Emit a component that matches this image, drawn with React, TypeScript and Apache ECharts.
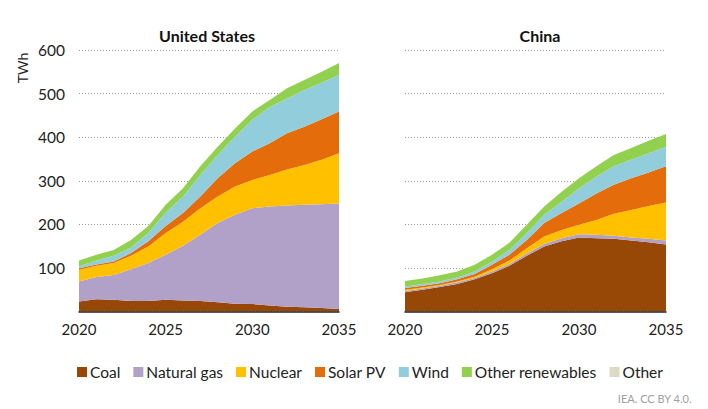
import React, { useEffect, useRef } from "react";
import * as echarts from "echarts";

const years = ["2020","2021","2022","2023","2024","2025","2026","2027","2028","2029","2030","2031","2032","2033","2034","2035"];
const seriesNames = ["Coal", "Natural gas", "Nuclear", "Solar PV", "Wind", "Other renewables", "Other"];
const colors = ["#974706", "#B1A0C7", "#FFC000", "#E46C0A", "#92CDDC", "#92D050", "#DDD9C4"];
const yTicks = [0, 100, 200, 300, 400, 500, 600];

const usCoal = [23, 28, 27, 24, 24, 27, 25, 24, 21, 18, 17, 14, 11, 10, 8, 6];
const usGas = [46, 51, 57, 73, 87, 103, 126, 152, 182, 204, 220, 227, 232, 235, 238, 242];
const usNuclear = [27, 26, 27, 31, 38, 50, 55, 61, 61, 65, 65, 72, 83, 91, 102, 115];
const usSolar = [3, 3, 4, 6, 12, 16, 20, 27, 42, 53, 65, 73, 83, 88, 93, 96];
const usWind = [4, 9, 13, 13, 19, 31, 38, 49, 53, 61, 73, 83, 80, 84, 84, 84];
const usOtherRen = [14, 13, 13, 17, 16, 18, 19, 20, 19, 19, 19, 16, 23, 23, 25, 27];
const usOther = [0, 0, 0, 0, 0, 0, 0, 0, 0, 0, 0, 0, 0, 0, 0, 0];

const cnCoal = [44, 50, 56, 63, 74, 88, 105, 128, 149, 161, 170, 168, 167, 163, 159, 154];
const cnGas = [3, 3, 3, 4, 3, 4, 4, 5, 6, 7, 7, 8, 7, 7, 8, 9];
const cnNuclear = [3, 2, 2, 2, 3, 5, 8, 12, 17, 19, 22, 34, 50, 63, 75, 87];
const cnSolar = [4, 4, 4, 5, 6, 10, 13, 19, 31, 39, 49, 61, 67, 73, 77, 83];
const cnWind = [3, 4, 4, 4, 6, 8, 11, 16, 19, 26, 35, 39, 42, 42, 44, 45];
const cnOtherRen = [13, 13, 14, 14, 15, 15, 17, 19, 19, 23, 23, 23, 26, 27, 29, 29];
const cnOther = [0, 0, 0, 0, 0, 0, 0, 0, 0, 0, 0, 0, 0, 0, 0, 0];

const usData = [usCoal, usGas, usNuclear, usSolar, usWind, usOtherRen, usOther];
const cnData = [cnCoal, cnGas, cnNuclear, cnSolar, cnWind, cnOtherRen, cnOther];

const FONT = "Lato, 'Open Sans', sans-serif";

export default function App() {
  const ref = useRef<HTMLDivElement>(null);
  useEffect(() => {
    if (!ref.current) return;
    const chart = echarts.init(ref.current, undefined, { renderer: "svg" });
    const makeSeries = (data: number[][], gi: number) =>
      data.map((vals, i) => ({
        name: seriesNames[i],
        type: "line",
        stack: "s" + gi,
        xAxisIndex: gi,
        yAxisIndex: gi,
        data: vals,
        showSymbol: false,
        symbol: "none",
        lineStyle: { width: 0 },
        itemStyle: { color: colors[i] },
        areaStyle: { color: colors[i], opacity: 1 },
        z: 2,
      }));
    const xAxisBase = (gi: number) => ({
      type: "category",
      gridIndex: gi,
      data: years,
      boundaryGap: false,
      axisLine: { lineStyle: { color: "#222", width: 1.5 } },
      axisTick: { show: false },
      axisLabel: {
        interval: 4,
        color: "#222",
        fontSize: 15,
        fontFamily: FONT,
        margin: 10,
      },
      z: 5,
    });
    const yAxisBase = (gi: number, showLabels: boolean) => ({
      type: "value",
      gridIndex: gi,
      min: yTicks[0],
      max: yTicks[yTicks.length - 1],
      interval: 100,
      axisLine: { show: false },
      axisTick: { show: false },
      axisLabel: {
        show: showLabels,
        color: "#222",
        fontSize: 15.5,
        fontFamily: FONT,
        margin: 14,
        formatter: (v: number) => (v === 0 ? "" : String(v)),
      },
      splitLine: {
        show: true,
        lineStyle: { color: "#9a9a9a", type: [1, 2], width: 1.2 },
      },
    });
    chart.setOption({
      animation: false,
      backgroundColor: "#fff",
      title: [
        {
          text: "United States",
          left: 202,
          top: 22,
          textAlign: "center",
          textStyle: { fontFamily: FONT, fontSize: 16, fontWeight: "bold", color: "#111" },
        },
        {
          text: "China",
          left: 535,
          top: 22,
          textAlign: "center",
          textStyle: { fontFamily: FONT, fontSize: 16, fontWeight: "bold", color: "#111" },
        },
      ],
      legend: {
        data: seriesNames,
        left: 72,
        top: 359,
        icon: "rect",
        itemWidth: 10,
        itemHeight: 10,
        itemGap: 13,
        textStyle: { fontFamily: FONT, fontSize: 15.5, color: "#222", padding: [0, 0, 0, -2] },
      },
      grid: [
        { left: 79, right: 369, top: 50, bottom: 97.5 },
        { left: 405, right: 42, top: 50, bottom: 97.5 },
      ],
      xAxis: [xAxisBase(0), xAxisBase(1)],
      yAxis: [yAxisBase(0, true), yAxisBase(1, false)],
      graphic: [
        {
          type: "text",
          x: 22,
          y: 68,
          rotation: Math.PI / 2,
          style: {
            text: "TWh",
            fontFamily: FONT,
            fontSize: 14,
            fill: "#222",
            align: "center",
            verticalAlign: "middle",
          },
        },
        {
          type: "text",
          right: 16,
          top: 393,
          style: {
            text: "IEA. CC BY 4.0.",
            fontFamily: FONT,
            fontSize: 11,
            fill: "#a0a0a0",
          },
        },
      ],
      series: [...makeSeries(usData, 0), ...makeSeries(cnData, 1)],
    });
    return () => chart.dispose();
  }, []);
  return (
    <div
      ref={ref}
      style={{ position: "fixed", left: 0, top: 0, width: 708, height: 409 }}
    />
  );
}
